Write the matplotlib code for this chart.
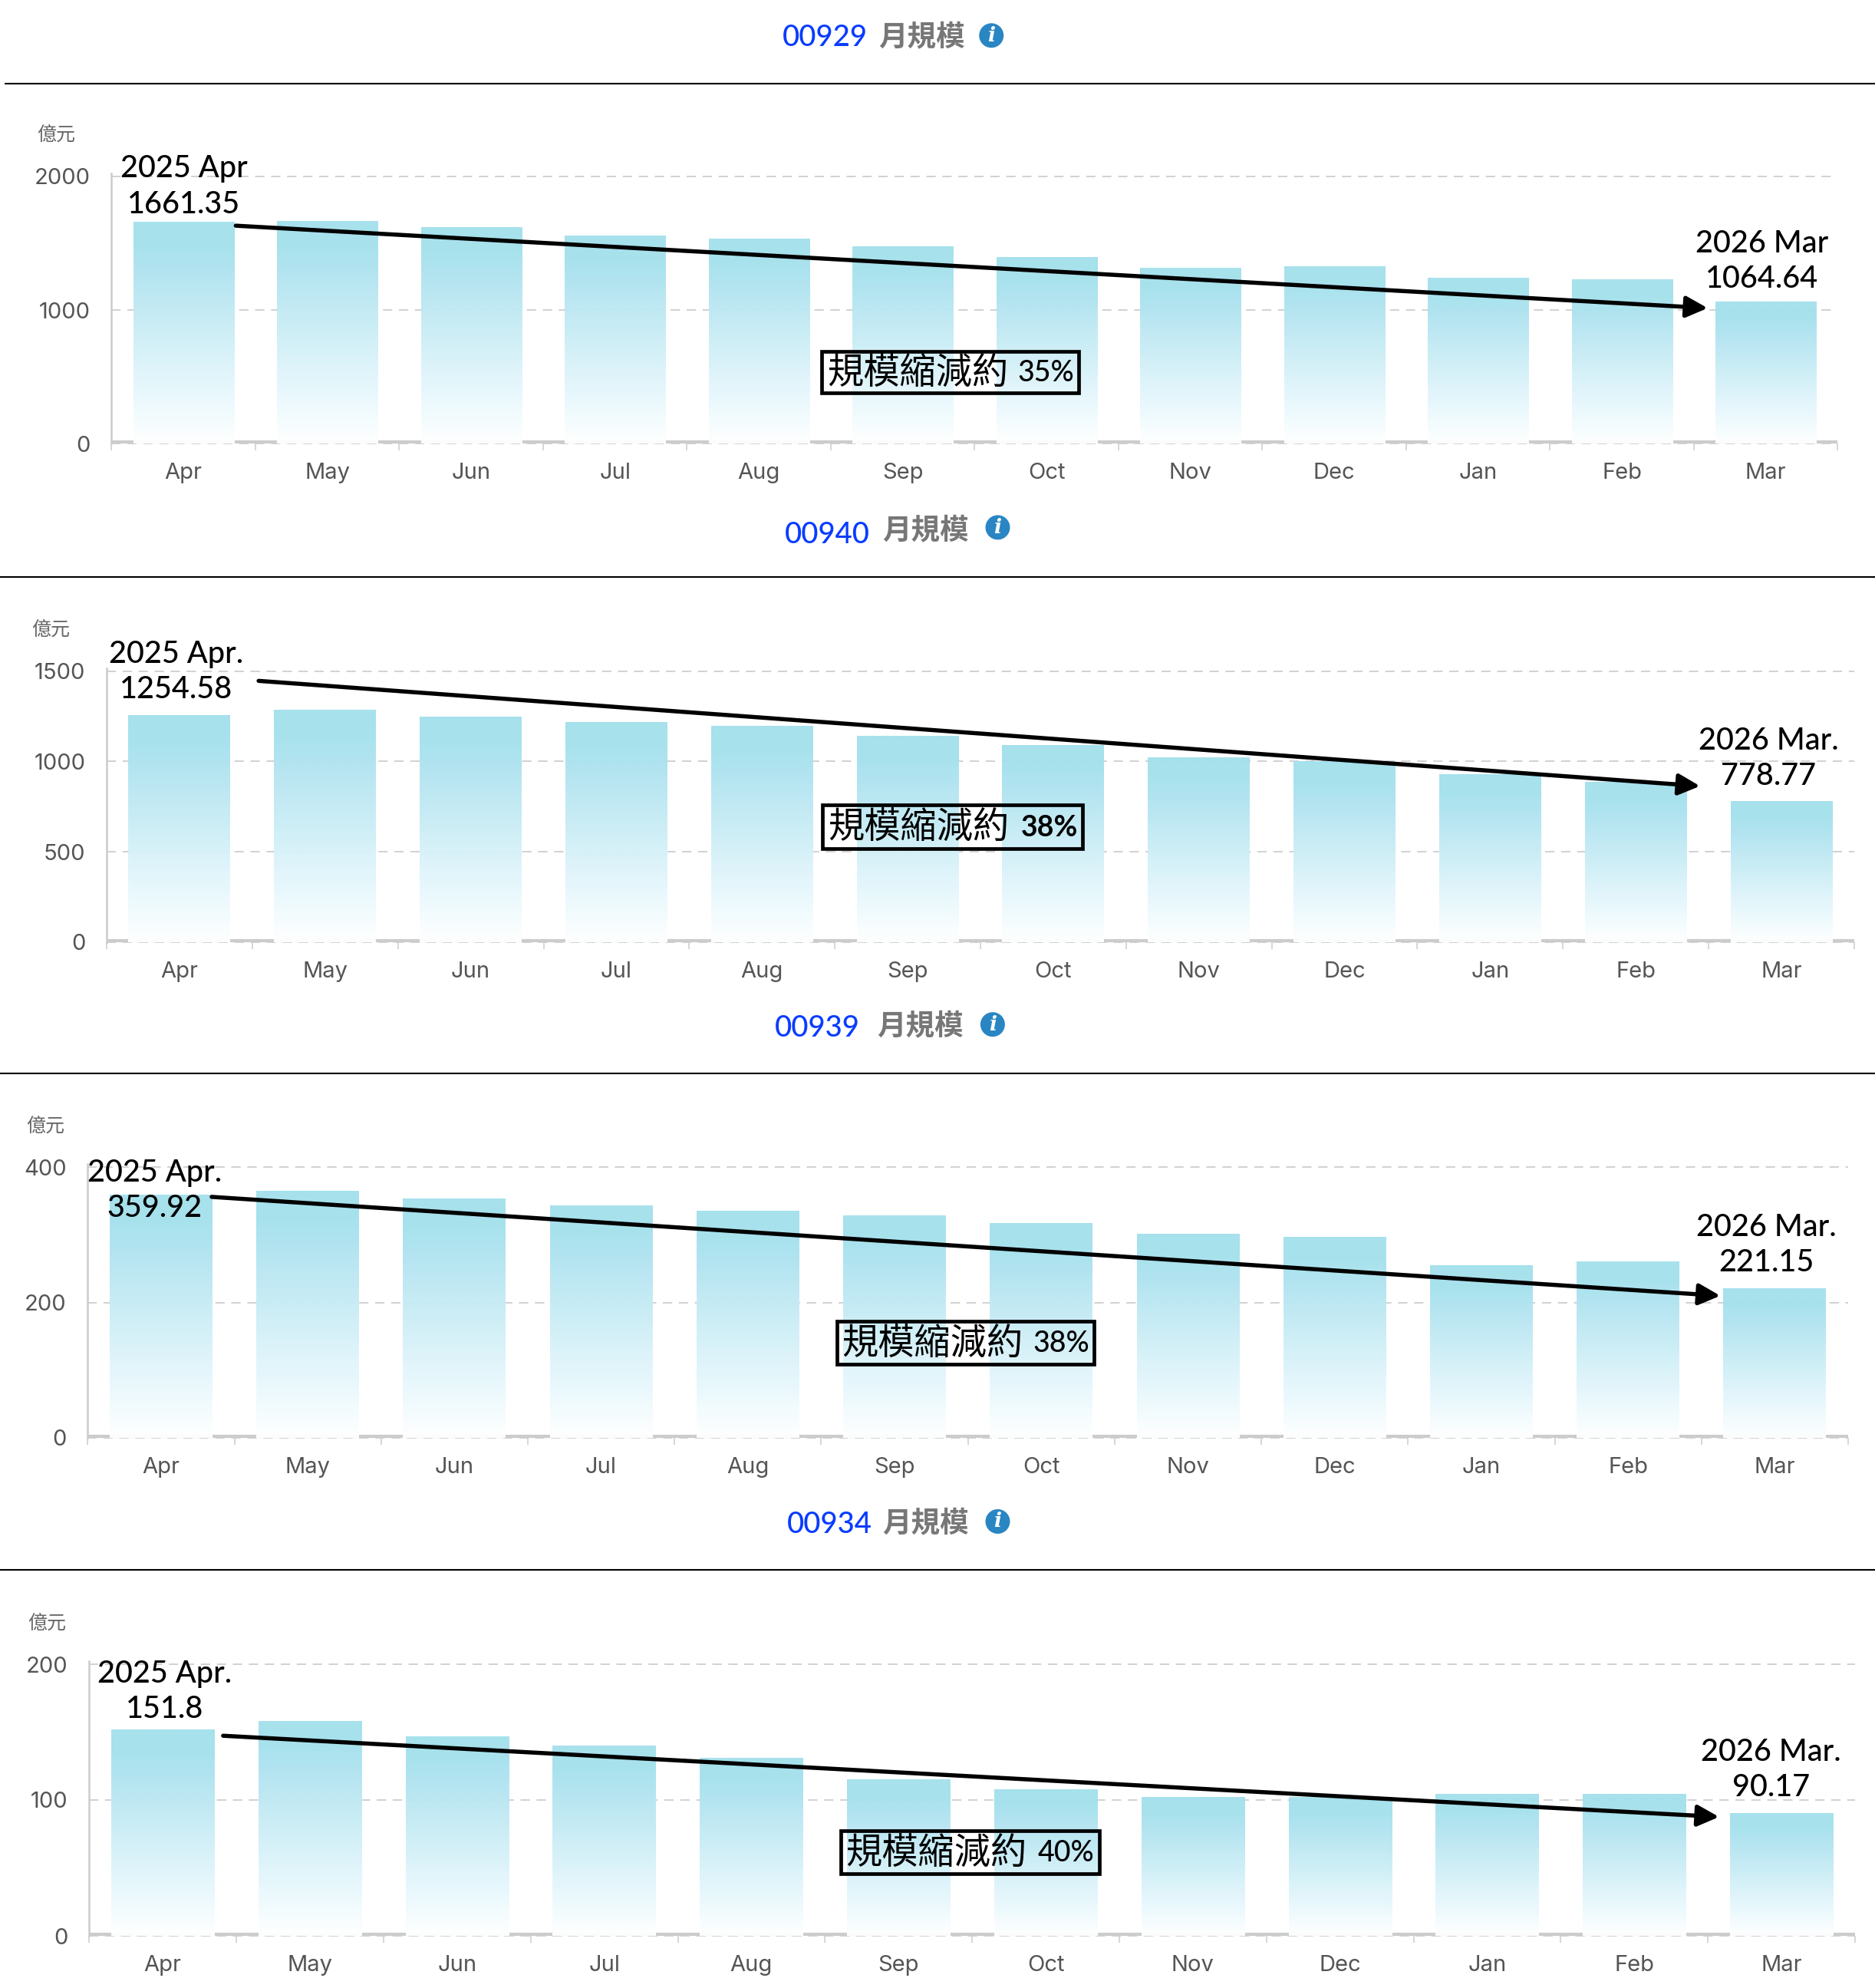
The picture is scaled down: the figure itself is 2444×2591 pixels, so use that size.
import numpy as np
import matplotlib
matplotlib.use("Agg")
import matplotlib.pyplot as plt
from matplotlib.colors import to_rgb
from matplotlib.patches import Circle, FancyArrowPatch, Rectangle
from matplotlib.transforms import offset_copy

# ---- data ------------------------------------------------------------------
MONTHS = ["Apr", "May", "Jun", "Jul", "Aug", "Sep", "Oct", "Nov", "Dec", "Jan", "Feb", "Mar"]
CODES = ["00929", "00940", "00939", "00934"]
VALUES_00929 = [1661.35, 1668, 1621, 1555, 1536, 1479, 1394, 1318, 1327, 1242, 1232, 1064.64]
VALUES_00940 = [1254.58, 1285, 1246, 1220, 1197, 1140, 1091, 1021, 1000, 929, 887, 778.77]
VALUES_00939 = [359.92, 365, 353.5, 344, 336, 329, 317, 302, 297, 255, 261, 221.15]
VALUES_00934 = [151.8, 158.1, 147, 140, 131, 115, 108, 102, 102, 104.5, 104.3, 90.17]
SERIES = [VALUES_00929, VALUES_00940, VALUES_00939, VALUES_00934]
YTICKS = [[0, 1000, 2000], [0, 500, 1000, 1500], [0, 200, 400], [0, 100, 200]]
SHRINK_PCT = ["35%", "38%", "38%", "40%"]
START_LABELS = ["2025 Apr", "2025 Apr.", "2025 Apr.", "2025 Apr."]
END_LABELS = ["2026 Mar", "2026 Mar.", "2026 Mar.", "2026 Mar."]
SHRINK_TEXT = "規模縮減約"
TITLE_TEXT = "月規模"
UNIT_TEXT = "億元"

# ---- layout, in output pixels ----------------------------------------------
W, H = 2444, 2591
U = W / 1479  # annotation positions below are kept in a 1479-wide grid
AXIS_LEFT = [145.4, 139.0, 114.3, 116.3]
AXIS_RIGHT = [2395.4, 2417.0, 2409.0, 2418.0]
AXIS_TOP = [229.8, 874.7, 1521.2, 2169.0]     # pixel row of the top gridline
AXIS_ZERO = [578.3, 1227.8, 1873.9, 2523.0]   # pixel row of zero
RULES = [(6, 108.6), (0, 752), (0, 1399), (0, 2046)]

TITLE_CODE_X = [617, 619, 611, 621]
TITLE_CODE_Y = [30, 422, 811, 1203]
TITLE_NAME_X = [693, 696, 692, 696]
TITLE_NAME_Y = [29, 418, 809, 1201]
ICON_X = [782, 787, 783, 787]
ICON_Y = [28, 416, 808, 1200]
UNIT_POS = [(44, 107), (40, 497), (36, 889), (37, 1281)]
START_POS = [(145, 133), (139, 516), (122, 925), (130, 1320)]
END_POS = [(1390, 192), (1395, 584), (1393, 968), (1397, 1382)]
BOXES = [(648, 277, 851, 310), (649, 635, 854, 669), (660, 1042, 863, 1076), (663, 1444, 867, 1478)]
ARROWS = [((186, 178), (1347, 243)), ((204, 537), (1341, 620)),
          ((167, 944), (1357, 1022)), ((176, 1369), (1356, 1433))]

LATIN = ["Lato", "Noto Sans CJK TC"]
CJK = ["Noto Sans CJK TC", "DejaVu Sans"]
GREY = "#cccccc"
TICK_TEXT = "#555555"

plt.rcParams["font.family"] = ["Inter", "Noto Sans CJK TC", "DejaVu Sans"]

fig = plt.figure(figsize=(W / 100, H / 100), dpi=100, facecolor="white")

# vertical fade shared by every bar: 0 = top of the bar, 1 = baseline
fade_pos = [0.0, 0.12, 0.25, 0.50, 0.75, 0.90, 1.0]
fade_col = np.array([to_rgb(c) for c in
                     ["#a3e0ec", "#a5e1ed", "#b3e5f1", "#cdeef6", "#e6f7fc", "#f5fcfe", "#ffffff"]])
t = np.linspace(0, 1, 256)
fade = np.ones((256, 1, 4))
for ch in range(3):
    fade[:, 0, ch] = np.interp(t, fade_pos, fade_col[:, ch])
fade[:, 0, 3] = 0.97


def draw_panel(i):
    left, right, top, zero = AXIS_LEFT[i], AXIS_RIGHT[i], AXIS_TOP[i], AXIS_ZERO[i]
    ymax_tick = YTICKS[i][-1]
    head = 4.0  # the y axis runs a little past the top gridline
    per_px = ymax_tick / (zero - top)
    ax = fig.add_axes([left / W, 1 - zero / H, (right - left) / W, (zero - top + head) / H])
    ax.patch.set_alpha(0)
    ax.set_xlim(0, 12)
    ax.set_ylim(0, ymax_tick + head * per_px)

    for y in YTICKS[i]:
        ax.plot([0, 12], [y, y], color=GREY, lw=1.25, dashes=(7, 5), zorder=1, clip_on=False)

    # thick baseline segment sitting just above zero, covered by the bars
    raised = offset_copy(ax.transData, fig=fig, x=0, y=2.2, units="dots")
    ax.plot([0, 12], [0, 0], color=GREY, lw=3.0, transform=raised, zorder=0.5,
            solid_capstyle="butt", clip_on=False)

    x = np.arange(12) + 0.5
    bars = ax.bar(x, SERIES[i], width=0.70, color="none", edgecolor="none", zorder=2)
    for rect in bars:
        x0, w, h = rect.get_x(), rect.get_width(), rect.get_height()
        im = ax.imshow(fade, extent=[x0, x0 + w, 0, h], aspect="auto",
                       interpolation="bilinear", zorder=2)
        im.set_clip_path(rect)
    ax.set_xlim(0, 12)
    ax.set_ylim(0, ymax_tick + head * per_px)

    for side in ("top", "right", "bottom"):
        ax.spines[side].set_visible(False)
    ax.spines["left"].set_color(GREY)
    ax.spines["left"].set_linewidth(1.8)

    ax.set_xticks(np.arange(13))
    ax.set_xticklabels([])
    ax.tick_params(axis="x", which="major", length=6.5, width=1.1, color=GREY)
    ax.set_xticks(x, minor=True)
    ax.set_xticklabels(MONTHS, minor=True)
    ax.tick_params(axis="x", which="minor", length=0, pad=18, labelsize=21, labelcolor=TICK_TEXT)
    ax.set_yticks(YTICKS[i])
    ax.tick_params(axis="y", length=0, pad=20, labelsize=21, labelcolor=TICK_TEXT)


for i in range(4):
    draw_panel(i)

# ---- overlay in pixel coordinates: rules, titles, call-outs -----------------
ov = fig.add_axes([0, 0, 1, 1], zorder=10)
ov.set_xlim(0, W)
ov.set_ylim(H, 0)
ov.axis("off")
ov.patch.set_alpha(0)

for x0, y0 in RULES:
    ov.plot([x0, W], [y0, y0], color="black", lw=1.5, solid_capstyle="butt")

for i in range(4):
    # title row
    ov.text(TITLE_CODE_X[i] * U, TITLE_CODE_Y[i] * U, CODES[i], color="#0a3cff",
            fontsize=27.5, family=LATIN, weight="medium", ha="left", va="center")
    ov.text(TITLE_NAME_X[i] * U, TITLE_NAME_Y[i] * U, TITLE_TEXT, color="#777777",
            fontsize=27, family=CJK, weight="bold", ha="left", va="center")
    cx, cy = ICON_X[i] * U, ICON_Y[i] * U
    ov.add_patch(Circle((cx, cy), 16, color="#2a86c3", lw=0))
    ov.text(cx, cy, "i", color="white", fontsize=19, family="DejaVu Serif",
            style="italic", weight="bold", ha="center", va="center")

    # unit above the y axis
    ov.text(UNIT_POS[i][0] * U, UNIT_POS[i][1] * U, UNIT_TEXT, color="#666666",
            fontsize=18, family=CJK, ha="center", va="center")

    # first and last month call-outs
    vals = SERIES[i]
    sx, sy = START_POS[i]
    ex, ey = END_POS[i]
    line_gap = 28
    for (px, py, head_txt, val) in ((sx, sy, START_LABELS[i], vals[0]), (ex, ey, END_LABELS[i], vals[-1])):
        ov.text(px * U, py * U, head_txt, color="black", fontsize=28.5, family=LATIN,
                weight="medium", ha="center", va="center")
        ov.text(px * U, (py + line_gap) * U, str(val), color="black", fontsize=28.5, family=LATIN,
                weight="medium", ha="center", va="center")

    # trend arrow
    (ax0, ay0), (ax1, ay1) = ARROWS[i]
    ov.add_patch(FancyArrowPatch((ax0 * U, ay0 * U), (ax1 * U, ay1 * U),
                                 arrowstyle="-|>,head_length=0.85,head_width=0.42",
                                 mutation_scale=20, lw=3.9, color="black",
                                 shrinkA=0, shrinkB=0, zorder=5))

    # outlined note in the middle of the panel
    bx0, by0, bx1, by1 = BOXES[i]
    ov.add_patch(Rectangle((bx0 * U, by0 * U), (bx1 - bx0) * U, (by1 - by0) * U,
                           fill=False, edgecolor="black", lw=3.4, zorder=6))
    mid = (by0 + by1) / 2 * U + 1.5
    ov.text((bx0 * U) + 7, mid, SHRINK_TEXT, color="black", fontsize=34, family=CJK,
            weight="medium", ha="left", va="center", zorder=7)
    ov.text((bx1 * U) - 6, mid, SHRINK_PCT[i], color="black", fontsize=27, family=LATIN,
            weight="bold" if i == 1 else "medium", ha="right", va="center", zorder=7)

fig.savefig("out.png", dpi=100, facecolor="white")
